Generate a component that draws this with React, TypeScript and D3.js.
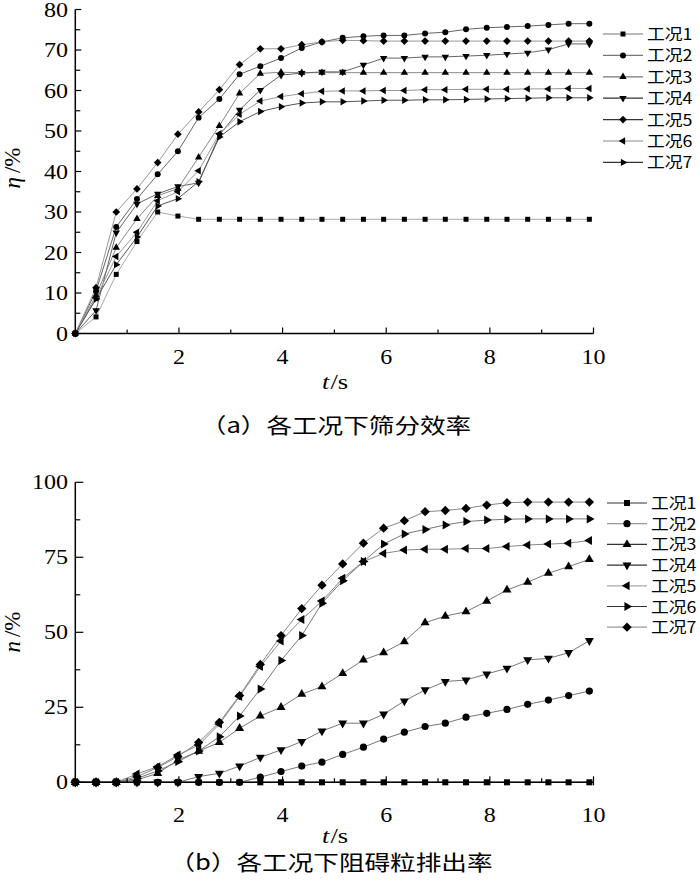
import React from "react";
import * as d3 from "d3";

const TIMES = [0, 0.4, 0.79, 1.19, 1.59, 1.98, 2.38, 2.78, 3.17, 3.57, 3.97, 4.37, 4.76, 5.16, 5.56, 5.95, 6.35, 6.75, 7.14, 7.54, 7.94, 8.33, 8.73, 9.13, 9.52, 9.92];

const LABELS = ["工况1", "工况2", "工况3", "工况4", "工况5", "工况6", "工况7"];

// (a) screening efficiency η/%
const A1 = [0, 4.1, 14.6, 22.7, 30, 29, 28.2, 28.2, 28.2, 28.2, 28.2, 28.2, 28.2, 28.2, 28.2, 28.2, 28.2, 28.2, 28.2, 28.2, 28.2, 28.2, 28.2, 28.2, 28.2, 28.2];
const A2 = [0, 10.5, 26.3, 33.2, 39.3, 45, 53.3, 57.9, 64, 66, 68, 70.5, 72, 73, 73.4, 73.6, 73.6, 74.1, 74.4, 75.1, 75.5, 75.7, 75.9, 76.2, 76.5, 76.5];
const A3 = [0, 9.4, 21.2, 28.3, 34, 35.8, 43.5, 51.3, 59.3, 64.2, 64.5, 64.4, 64.4, 64.4, 64.4, 64.4, 64.4, 64.4, 64.4, 64.4, 64.4, 64.4, 64.4, 64.4, 64.4, 64.4];
const A4 = [0, 5.7, 24.9, 32, 34.5, 36.3, 37.2, 49, 55.2, 60.1, 63.8, 64.3, 64.6, 64.6, 66.3, 68, 68, 68.3, 68.3, 68.5, 68.7, 69, 69.3, 70.1, 71.5, 71.5];
const A5 = [0, 11.3, 30, 35.7, 42.2, 49.2, 54.7, 60.2, 66.4, 70.3, 70.3, 71.3, 72, 72.4, 72.3, 72.2, 72.2, 72.2, 72.2, 72.2, 72.2, 72.2, 72.2, 72.2, 72.2, 72.2];
const A6 = [0, 8.8, 19, 25, 32.8, 35, 40.2, 49.3, 54.1, 57.4, 58.5, 59.2, 59.8, 59.9, 59.9, 60, 60, 60.2, 60.2, 60.3, 60.3, 60.3, 60.4, 60.4, 60.5, 60.5];
const A7 = [0, 8.5, 17, 23.8, 31.5, 33.3, 37.5, 48.5, 52.3, 54.8, 56, 56.9, 57.2, 57.2, 57.4, 57.6, 57.6, 57.7, 57.7, 57.8, 57.9, 58, 58.1, 58.2, 58.2, 58.2];

// (b) obstructing particle discharge rate n/%
const B1 = [0, 0, 0, 0, 0, 0, 0, 0, 0, 0, 0, 0, 0, 0, 0, 0, 0, 0, 0, 0, 0, 0, 0, 0, 0, 0];
const B2 = [0, 0, 0, 0, 0, 0, 0, 0, 0, 1.7, 3.6, 5.4, 6.7, 9.3, 11.7, 14.4, 16.7, 18.6, 19.7, 21.7, 23, 24.3, 26, 27.4, 28.9, 30.4];
const B3 = [0, 0, 0, 0.8, 3, 7.4, 10.4, 13.3, 18, 22.1, 25, 29.4, 31.9, 36.3, 40.8, 43.2, 46.9, 53.2, 55.4, 56.9, 60.4, 64.1, 66.7, 69.7, 71.9, 74.3];
const B4 = [0, 0, 0, 0, 0, 0, 1.9, 3, 5.4, 8.3, 10.8, 13.6, 17.1, 19.7, 19.7, 22.7, 27.1, 30.8, 33.6, 34.1, 36.1, 38, 40.8, 41.3, 43.2, 47.2];
const B5 = [0, 0, 0, 2.8, 5.2, 9.1, 12.4, 19.4, 28.6, 38.6, 47.1, 54.3, 60.4, 68, 73.6, 76.3, 77.4, 77.7, 77.7, 77.9, 77.9, 78.6, 79.1, 79.4, 79.7, 80.6];
const B6 = [0, 0, 0, 1.3, 3.8, 6.9, 10.4, 15.2, 22.1, 31.1, 40.6, 48.9, 59.7, 67.2, 73.6, 79.4, 82.8, 84.3, 85.8, 86.9, 87.4, 87.7, 87.8, 87.8, 87.8, 87.8];
const B7 = [0, 0, 0, 1.9, 4.9, 8.6, 13.3, 20, 28.9, 39.3, 48.9, 57.9, 65.7, 72.8, 79.7, 84.7, 87.2, 90.2, 90.6, 91.3, 92.4, 93.2, 93.4, 93.4, 93.4, 93.4];

const A_TICKS = [0, 10, 20, 30, 40, 50, 60, 70, 80];
const B_TICKS = [0, 25, 50, 75, 100];
const X_LABELS = [2, 4, 6, 8, 10];

const A_SERIES = [A1, A2, A3, A4, A5, A6, A7];
const B_SERIES = [B1, B2, B3, B4, B5, B6, B7];
const A_SHAPES = ["square", "circle", "up", "down", "diamond", "left", "right"];
const B_SHAPES = ["square", "circle", "up", "down", "left", "right", "diamond"];

const SERIF = "'Liberation Serif', 'Times New Roman', serif";
const CJK = "'Noto Sans CJK SC', sans-serif";
const SX = 1.2;

const x = d3.scaleLinear().domain([0, 10]).range([75.3, 593.5]);
const yA = d3.scaleLinear().domain([0, 80]).range([333.5, 9.5]);
const yB = d3.scaleLinear().domain([0, 100]).range([782.3, 482.3]);

function symbolPath(shape: string, big: boolean): { d: string; rot: number } {
  const k = big ? 1.45 : 1;
  switch (shape) {
    case "square":
      return { d: d3.symbol(d3.symbolSquare, 25 * k)()!, rot: 0 };
    case "circle":
      return { d: d3.symbol(d3.symbolCircle, 28 * k)()!, rot: 0 };
    case "diamond":
      return { d: d3.symbol(d3.symbolSquare, 30 * k)()!, rot: 45 };
    case "up":
      return { d: d3.symbol(d3.symbolTriangle, 24 * k)()!, rot: 0 };
    case "down":
      return { d: d3.symbol(d3.symbolTriangle, 24 * k)()!, rot: 180 };
    case "left":
      return { d: d3.symbol(d3.symbolTriangle, 24 * k)()!, rot: -90 };
    case "right":
    default:
      return { d: d3.symbol(d3.symbolTriangle, 24 * k)()!, rot: 90 };
  }
}

function Marker({ cx, cy, shape, big }: { cx: number; cy: number; shape: string; big: boolean }) {
  const s = symbolPath(shape, big);
  return <path d={s.d} transform={`translate(${cx},${cy}) rotate(${s.rot})`} fill="#000" />;
}

function T({ x: tx, y: ty, anchor = "start", size = 20, family = SERIF, sx = SX, children, italic = false }: any) {
  return (
    <text
      transform={`translate(${tx},${ty}) scale(${sx},1)`}
      textAnchor={anchor}
      fontSize={size}
      fontFamily={family}
      fontStyle={italic ? "italic" : "normal"}
      fill="#000"
    >
      {children}
    </text>
  );
}

function Panel({
  series,
  shapes,
  y,
  yTicks,
  yMinor,
  big,
  yLabel,
  legendY0,
  legendDy,
  legendX,
  caption,
  captionX,
  captionY,
  xLabelY,
  tsY,
  yLabelCenter,
  crossTicks,
  lineColors,
  legendColors,
}: any) {
  const y0 = y(0);
  const yTop = y.range()[1];
  const line = d3
    .line<number>()
    .x((_, i) => x(TIMES[i]))
    .y((v) => y(v));
  return (
    <g>
      {series.map((s: number[], si: number) => (
        <path key={"l" + si} d={line(s)!} fill="none" stroke={lineColors[si]} strokeWidth={1} />
      ))}
      {series.map((s: number[], si: number) =>
        s.map((v, i) => <Marker key={"m" + si + "_" + i} cx={x(TIMES[i])} cy={y(v)} shape={shapes[si]} big={big} />)
      )}
      <line x1={x(0)} x2={x(0)} y1={y0} y2={yTop} stroke="#000" strokeWidth={1.5} />
      <line x1={x(0)} x2={x(10)} y1={y0} y2={y0} stroke="#000" strokeWidth={1.5} />
      {yTicks.map((t: number) => (
        <line key={"yt" + t} x1={x(0)} x2={x(0) + (big ? 8 : 6)} y1={y(t)} y2={y(t)} stroke="#000" strokeWidth={1.2} />
      ))}
      {yMinor.map((t: number) => (
        <line key={"ym" + t} x1={x(0)} x2={x(0) + 5} y1={y(t)} y2={y(t)} stroke="#000" strokeWidth={1.2} />
      ))}
      {d3.range(1, 11).map((t) => {
        const major = t % 2 === 0;
        const up = major ? 6 : 4;
        const down = crossTicks && major ? 3 : 0;
        return <line key={"xt" + t} x1={x(t)} x2={x(t)} y1={y0 + down} y2={y0 - up} stroke="#000" strokeWidth={1.2} />;
      })}
      {yTicks.map((t: number) => (
        <T key={"yl" + t} x={68} y={y(t) + 7} anchor="end">
          {t}
        </T>
      ))}
      {X_LABELS.map((t: number) => (
        <T key={"xl" + t} x={x(t)} y={xLabelY} anchor="middle">
          {t}
        </T>
      ))}
      <text transform={`translate(${20},${yLabelCenter}) rotate(-90)`} textAnchor="middle" fontSize={23} fontFamily={SERIF}>
        <tspan fontStyle="italic">{yLabel}</tspan>
        <tspan dx={4}>{"/%"}</tspan>
      </text>
      <T x={335} y={tsY} anchor="middle" size={22}>
        <tspan fontStyle="italic">t</tspan>
        <tspan dx={1}>{"/s"}</tspan>
      </T>
      <T x={captionX} y={captionY} anchor="middle" size={21} family={CJK} sx={1.22}>
        {caption}
      </T>
      {LABELS.map((lab, i) => {
        const ly = legendY0 + i * legendDy;
        return (
          <g key={"lg" + i}>
            <line x1={legendX} x2={legendX + 40} y1={ly} y2={ly} stroke={legendColors[i]} strokeWidth={1.2} />
            <Marker cx={legendX + 20} cy={ly} shape={shapes[i]} big={big} />
            <T x={legendX + 44} y={ly + 6} size={15.5} family={CJK} sx={1.15}>
              {lab}
            </T>
          </g>
        );
      })}
    </g>
  );
}

export default function App() {
  return (
    <svg width={700} height={880} style={{ position: "absolute", left: 0, top: 0, background: "#fff" }}>
      <rect width={700} height={880} fill="#fff" />
      <Panel
        series={A_SERIES}
        shapes={A_SHAPES}
        y={yA}
        yTicks={A_TICKS}
        yMinor={[5, 15, 25, 35, 45, 55, 65, 75]}
        big={false}
        yLabel="η"
        legendY0={34}
        legendDy={21.4}
        legendX={603}
        caption={"（a）各工况下筛分效率"}
        captionX={336}
        captionY={433}
        xLabelY={364}
        tsY={389}
        yLabelCenter={168}
        crossTicks={false}
        lineColors={["#aaa", "#666", "#888", "#666", "#999", "#999", "#555"]}
        legendColors={["#777", "#777", "#777", "#333", "#333", "#888", "#333"]}
      />
      <Panel
        series={B_SERIES}
        shapes={B_SHAPES}
        y={yB}
        yTicks={B_TICKS}
        yMinor={[12.5, 37.5, 62.5, 87.5]}
        big={true}
        yLabel="n"
        legendY0={503}
        legendDy={20.7}
        legendX={607}
        caption={"（b）各工况下阻碍粒排出率"}
        captionX={331}
        captionY={870}
        xLabelY={822}
        tsY={843}
        yLabelCenter={632}
        crossTicks={true}
        lineColors={["#444", "#777", "#777", "#777", "#888", "#777", "#888"]}
        legendColors={["#333", "#999", "#333", "#333", "#aaa", "#333", "#999"]}
      />
    </svg>
  );
}
